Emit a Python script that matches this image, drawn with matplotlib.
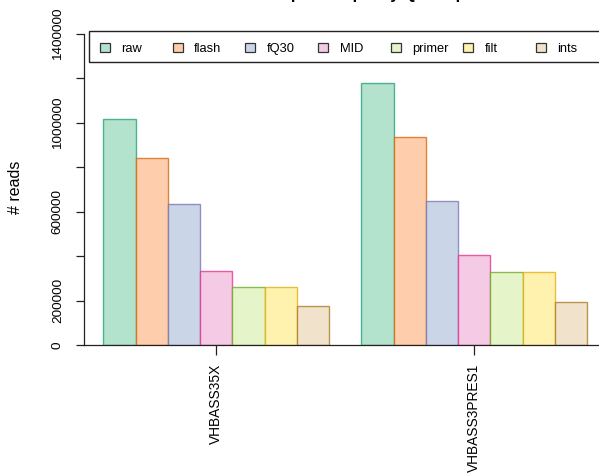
import matplotlib.pyplot as plt
import numpy as np
from matplotlib.colors import to_rgba
from matplotlib.patches import Rectangle

plt.rcParams["font.family"] = ["Liberation Sans", "DejaVu Sans"]

samples = ["VHBASS35X", "VHBASS3PRES1"]
steps = ["raw", "flash", "fQ30", "MID", "primer", "filt", "ints"]
reads_35x = [1015000, 843000, 634000, 333000, 262000, 262000, 174000]
reads_3pres1 = [1177000, 934000, 649000, 406000, 328000, 328000, 192000]

# Pastel2 fills, Dark2 outlines
fills = ["#B3E2CD", "#FDCDAC", "#CBD5E8", "#F4CAE4", "#E6F5C9", "#FFF2AE", "#F1E2CC"]
borders = ["#1B9E77", "#D95F02", "#7570B3", "#E7298A", "#66A61E", "#E6AB02", "#A6761D"]
y_ticks = np.arange(0, 1400001, 200000)
y_labels = ["0", "200000", "", "600000", "", "1000000", "", "1400000"]

W, H = 599, 473


def fig_xy(x, y):
    # pixel position (from top-left) -> figure fraction
    return x / W, 1 - y / H


fig = plt.figure(figsize=(W / 100, H / 100), dpi=100)
ax = fig.add_axes([84 / W, 128 / H, 522.6 / W, 314 / H])

counts = np.array([reads_35x, reads_3pres1])
n = len(steps)
edge = [to_rgba(c, 0.75) for c in borders]
for g, row in enumerate(counts):
    left = 1 + g * (n + 1) + np.arange(n)
    ax.bar(left, row, width=1, align="edge", color=fills, edgecolor=edge, linewidth=1.0)

ax.set_xlim(0.4, 16.6)
ax.set_ylim(0, 1412300)

for side in ("top", "right"):
    ax.spines[side].set_visible(False)
ax.spines["left"].set_bounds(0, 1400000)
for side in ("left", "bottom"):
    ax.spines[side].set_linewidth(0.9)
    ax.spines[side].set_color("#222222")

centers = [1 + g * (n + 1) + n / 2 for g in range(len(samples))]
ax.set_xticks(centers, samples, rotation=90, va="top")
ax.set_yticks(y_ticks, y_labels, rotation=90, va="center")
ax.tick_params(axis="x", length=7, width=0.9, pad=6.5, labelsize=9.9, color="#222222")
ax.tick_params(axis="y", length=6, width=0.9, pad=8.5, labelsize=9.7, color="#222222")

fig.text(*fig_xy(15, 187.5), "# reads", rotation=90, ha="center", va="center", fontsize=11.5)
# title sits above the top edge, only its descenders reach into the canvas
fig.text(*fig_xy(352, -1.5), "Reads per sample by QC step", ha="center", va="baseline",
         fontsize=11.6, fontweight="bold")

# horizontal legend along the top
x0, y0 = fig_xy(88.7, 62)
x1, y1 = fig_xy(640, 31)
fig.add_artist(Rectangle((x0, y0), x1 - x0, y1 - y0, transform=fig.transFigure,
                         fill=False, lw=1.0, ec="#222222"))
for i, (name, fc) in enumerate(zip(steps, fills)):
    kx = 100 + 72.67 * i
    bx, by = fig_xy(kx, 51.7)
    fig.add_artist(Rectangle((bx, by), 10 / W, 9 / H, transform=fig.transFigure,
                             fc=fc, ec="#333333", lw=0.9))
    fig.text(*fig_xy(kx + 21.5, 52.3), name, ha="left", va="baseline", fontsize=9.3)

fig.savefig("out.png", dpi=100)
